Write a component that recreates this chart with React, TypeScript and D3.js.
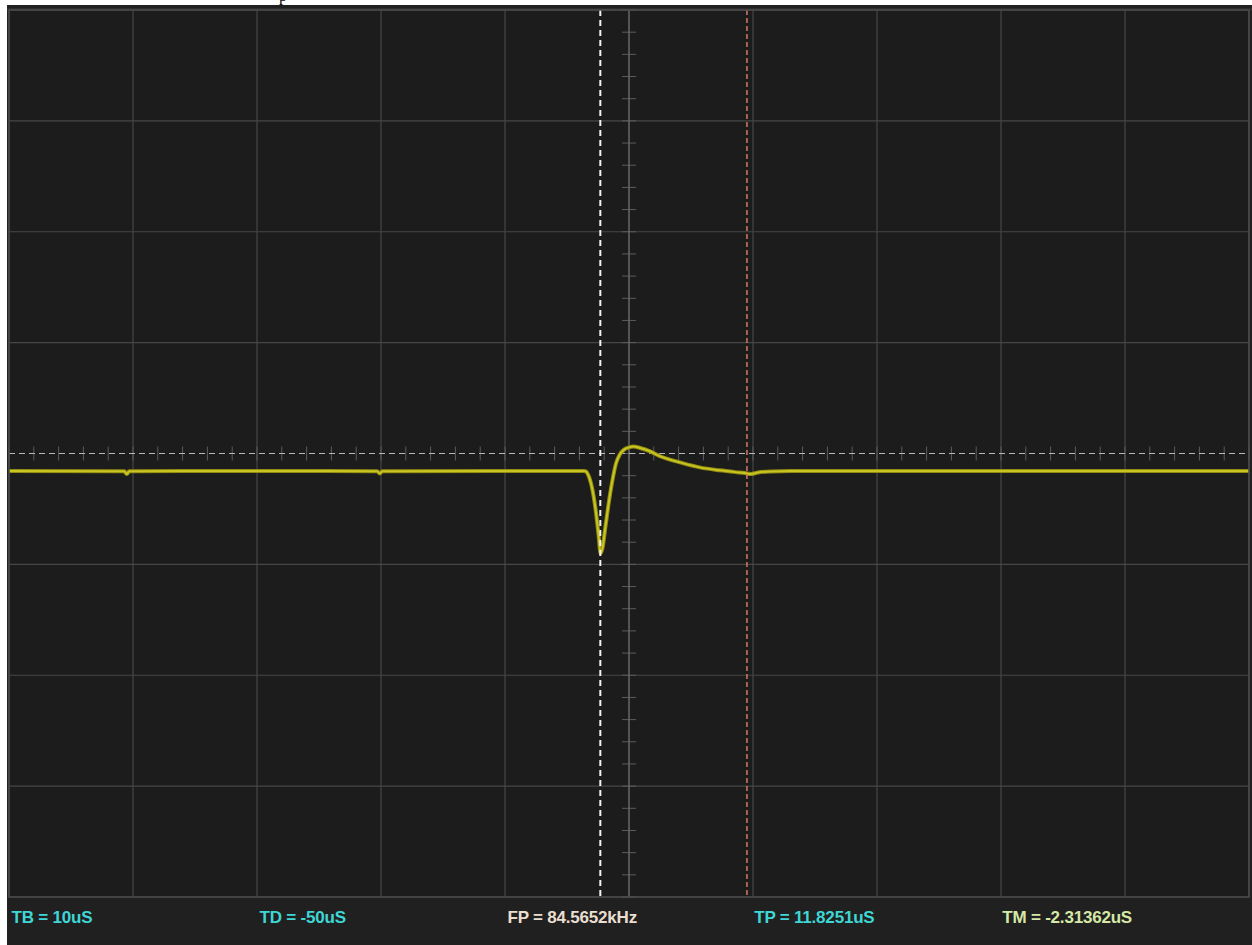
import React from "react";
import * as d3 from "d3";

// Time in µs (TB = 10 µs/div, centre = 0), voltage in divisions
const traceTime = [
  -50, -40.7, -40.5, -40.3, -30, -20.3, -20.1, -19.9, -10, -3.7, -3.5, -3.3,
  -3.0, -2.7, -2.45, -2.3, -2.15, -1.9, -1.6, -1.3, -1.05, -0.75, -0.4, 0.0, 0.35, 0.9,
  1.7, 2.5, 3.3, 4.1, 5.7, 7.3, 8.6, 9.35, 9.8, 10.4, 11.4, 13, 20, 30, 40, 50,
];
const traceVolt = [
  -0.158, -0.16, -0.185, -0.16, -0.158, -0.16, -0.18, -0.16, -0.158, -0.158, -0.16, -0.19,
  -0.3, -0.5, -0.74, -0.9, -0.86, -0.66, -0.42, -0.22, -0.09, -0.01, 0.035, 0.055, 0.063, 0.05,
  0.02, -0.025, -0.055, -0.08, -0.125, -0.152, -0.168, -0.176, -0.185, -0.172, -0.162, -0.158, -0.158, -0.158, -0.158, -0.158,
];

const xDivisions = d3.range(-50, 51, 10);
const yDivisions = d3.range(-4, 5, 1);

const cursorTimes = [-2.31362, 9.51148];

const labels = ["TB = 10uS", "TD = -50uS", "FP = 84.5652kHz", "TP = 11.8251uS", "TM = -2.31362uS"];
const labelTimes = [-49.8, -29.8, -9.8, 10.1, 30.1];
const labelColors = ["#3fd6d6", "#3fd6d6", "#eadfcf", "#3fd6d6", "#d6e8a6"];

export default function App() {
  const W = 1252;
  const H = 945;
  const x = d3.scaleLinear().domain([-50, 50]).range([9, 1249]);
  const y = d3.scaleLinear().domain([-4, 4]).range([897, 10]);

  const line = d3
    .line<number>()
    .x((_, i) => x(traceTime[i]))
    .y((d) => y(d))
    .curve(d3.curveMonotoneX);
  const path = line(traceVolt) || "";

  const minorX = d3.range(-50, 50.01, 2);
  const minorY = d3.range(-4, 4.01, 0.2);

  return (
    <svg
      width={W}
      height={H}
      style={{ position: "absolute", left: 0, top: 0, background: "#ffffff" }}
    >
      <text x={279} y={1} fontFamily="Liberation Serif" fontSize={16} fill="#000">
        p
      </text>
      <rect x={7} y={5} width={W - 7} height={H - 5} fill="#202020" />
      <rect x={x(-50)} y={y(4)} width={x(50) - x(-50)} height={y(-4) - y(4)} fill="#1c1c1c" />
      <rect x={7} y={8} width={W - 7} height={3} fill="#2e2e2e" />
      {/* grid */}
      {xDivisions.map((t) => (
        <line key={"gx" + t} x1={x(t)} x2={x(t)} y1={y(4)} y2={y(-4)} stroke="#464646" strokeWidth={1.2} />
      ))}
      {yDivisions.filter((v) => v !== 0).map((v) => (
        <line key={"gy" + v} x1={x(-50)} x2={x(50)} y1={y(v)} y2={y(v)} stroke="#464646" strokeWidth={1.2} />
      ))}
      {/* centre axes with ticks */}
      {minorX.map((t) => (
        <line key={"tx" + t} x1={x(t)} x2={x(t)} y1={y(0) - 7} y2={y(0) + 7} stroke="#5c5c5c" strokeWidth={1} />
      ))}
      {minorY.map((v, i) => (
        <line key={"ty" + i} x1={x(0) - 7} x2={x(0) + 7} y1={y(v)} y2={y(v)} stroke="#5c5c5c" strokeWidth={1} />
      ))}
      <line x1={x(0)} x2={x(0)} y1={y(4)} y2={y(-4)} stroke="#6a6a6a" strokeWidth={1.2} />
      <line
        x1={x(-50)}
        x2={x(50)}
        y1={y(0)}
        y2={y(0)}
        stroke="#b8b8b8"
        strokeWidth={1.2}
        strokeDasharray="6,4"
      />
      {/* trace */}
      <path d={path} fill="none" stroke="#8f8c10" strokeWidth={4} strokeLinejoin="round" />
      <path d={path} fill="none" stroke="#c9c422" strokeWidth={2} strokeLinejoin="round" />
      {/* cursors */}
      <line
        x1={x(cursorTimes[0])}
        x2={x(cursorTimes[0])}
        y1={y(4)}
        y2={y(-4)}
        stroke="#f4f4f4"
        strokeWidth={2}
        strokeDasharray="6,4"
      />
      <line
        x1={x(cursorTimes[1])}
        x2={x(cursorTimes[1])}
        y1={y(4)}
        y2={y(-4)}
        stroke="#d8766a"
        strokeWidth={1.5}
        strokeDasharray="5,3"
      />
      <rect
        x={x(-50)}
        y={y(4)}
        width={x(50) - x(-50)}
        height={y(-4) - y(4)}
        fill="none"
        stroke="#4a4a4a"
        strokeWidth={1.5}
      />
      {/* bottom status bar */}
      {labels.map((l, i) => (
        <text
          key={l}
          x={x(labelTimes[i])}
          y={923}
          fill={labelColors[i]}
          fontFamily="Liberation Sans, Arial, sans-serif"
          fontWeight="bold"
          fontSize={17}
          letterSpacing={-0.2}
        >
          {l}
        </text>
      ))}
    </svg>
  );
}
